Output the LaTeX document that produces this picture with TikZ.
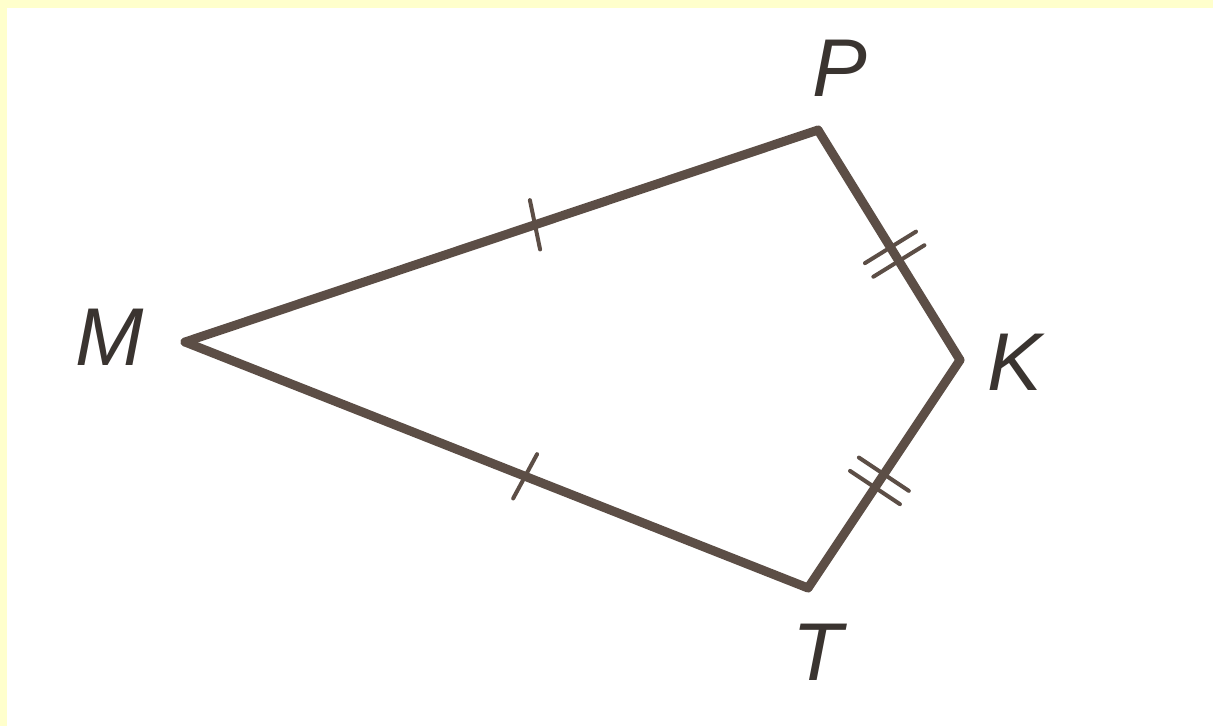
\documentclass[tikz,border=0pt]{standalone}
\usepackage{fontspec}
\setsansfont{Liberation Sans}
\usetikzlibrary{decorations.markings}
\definecolor{frame}{HTML}{FFFFCC}
\definecolor{ink}{HTML}{5C4E46}
\definecolor{letter}{HTML}{3A3430}
\tikzset{
  side/.style={draw=ink, line width=9pt, line join=round, line cap=round},
  vlabel/.style={text=letter, font=\sffamily\itshape\fontsize{82}{82}\selectfont, inner sep=0pt},
  onetick/.style={postaction={decorate, decoration={markings,
      mark=at position #1 with {\draw[ink, line width=4pt] (-3pt,-25pt) -- (3pt,25pt);}}}},
  twotick/.style={postaction={decorate, decoration={markings,
      mark=at position #1 with {\draw[ink, line width=4pt] (-8pt,-30pt) -- (-8pt,30pt) (8pt,-30pt) -- (8pt,30pt);}}}}
}
\begin{document}
\begin{tikzpicture}[x=1pt, y=-1pt]
\useasboundingbox (0,0) rectangle (1213,726);
\fill[frame] (0,0) rectangle (1213,726);
\fill[white] (7,8) rectangle (1213,726);
\coordinate (M) at (185,342);
\coordinate (P) at (818,130);
\coordinate (K) at (960,360);
\coordinate (T) at (808,588);
\draw[side, onetick=0.553] (M) -- (P);
\draw[side, twotick=0.54] (P) -- (K);
\draw[side, twotick=0.47] (T) -- (K);
\draw[side, onetick=0.546] (M) -- (T);
\node[vlabel] (lM) at (110,337) {M};
\node[vlabel] (lP) at (840,68) {P};
\node[vlabel] (lK) at (1015,362) {K};
\node[vlabel] (lT) at (818,652) {T};
\end{tikzpicture}
\end{document}
